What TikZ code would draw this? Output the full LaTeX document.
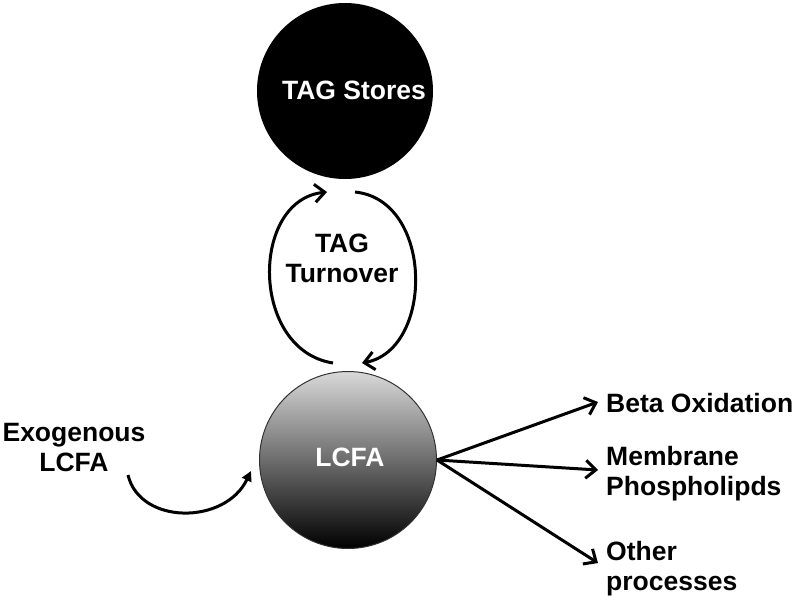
\documentclass[tikz,border=0pt]{standalone}
\usepackage{fontspec}
\setmainfont{Liberation Sans}
\usetikzlibrary{arrows.meta}
\begin{document}
\begin{tikzpicture}[x=1pt,y=-1pt,
  lbl/.style={inner sep=0pt,font=\fontsize{26.5}{30}\selectfont\bfseries,align=center},
  conn/.style={line width=3pt,-{Straight Barb[length=10pt,width=18pt,line width=3pt]}},
  exo/.style={line width=3pt,-{Triangle[length=10pt,width=10pt]}}]
\useasboundingbox[fill=white] (0,0) rectangle (800,603);
\node[circle,fill=black,minimum size=176pt,inner sep=0pt] (tag) at (345,91) {};
\node[lbl,text=white] (tagt) at (354,90) {TAG Stores};
\node[circle,draw=black!80,line width=1pt,top color=black!15,bottom color=black,minimum size=177pt,inner sep=0pt] (lcfa) at (348,460) {};
\node[lbl,text=white] (lcfat) at (350,457) {LCFA};
\node[lbl] (turn) at (342,258) {TAG\\Turnover};
\node[lbl] (exo) at (74,448) {Exogenous\\LCFA};
\node[lbl,anchor=west] (beta) at (606,403) {Beta Oxidation};
\node[lbl,anchor=west,align=left] (memb) at (606,474) {Membrane\\Phospholipds};
\node[lbl,anchor=west,align=left] (other) at (606,569) {Other\\processes};
\coordinate (lb) at (333,363);
\coordinate (lt) at (327,192);
\coordinate (rt) at (355,192);
\coordinate (rb) at (362,363);
\coordinate (es) at (128,475);
\coordinate (ee) at (251,471);
\coordinate (hub) at (437,460);
\coordinate (b1) at (598,402);
\coordinate (b2) at (598,470);
\coordinate (b3) at (598,563);
\draw[conn] (lb) .. controls (250,350) and (250,200) .. (lt);
\draw[conn] (rt) .. controls (434,200) and (434,350) .. (rb);
\draw[exo] (es) .. controls (140,525) and (225,525) .. (ee);
\draw[conn] (hub) -- (b1);
\draw[conn] (hub) -- (b2);
\draw[conn] (hub) -- (b3);
\end{tikzpicture}
\end{document}
